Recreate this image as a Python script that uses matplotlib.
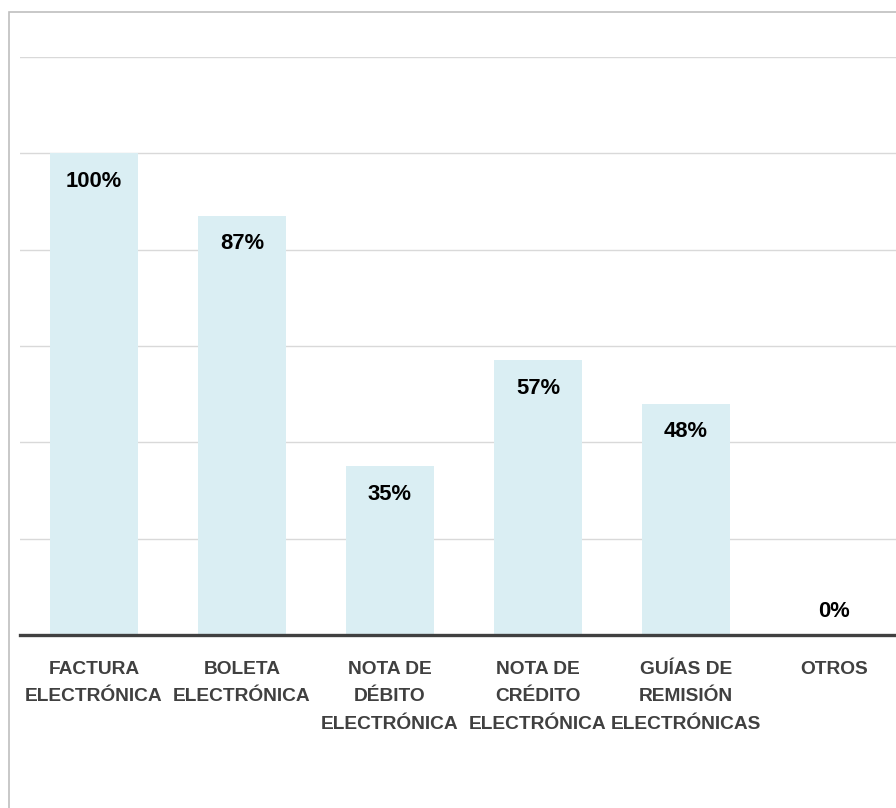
import numpy as np
import matplotlib.pyplot as plt
from matplotlib.patches import Rectangle

categorias = ['FACTURA\nELECTRÓNICA', 'BOLETA\nELECTRÓNICA', 'NOTA DE\nDÉBITO\nELECTRÓNICA',
              'NOTA DE\nCRÉDITO\nELECTRÓNICA', 'GUÍAS DE\nREMISIÓN\nELECTRÓNICAS', 'OTROS']
valores = [100, 87, 35, 57, 48, 0]
etiquetas = ['100%', '87%', '35%', '57%', '48%', '0%']

plt.rcParams['font.family'] = ['Liberation Sans', 'DejaVu Sans']

W, H = 896, 808
fig = plt.figure(figsize=(W / 100, H / 100), dpi=100)
fig.patch.set_facecolor('white')

# borde del grafico (recortado a la derecha y abajo)
fig.patches.append(Rectangle((9 / W, -0.1), 1.2, (H - 12) / H + 0.1, transform=fig.transFigure,
                             fill=False, edgecolor='#BFBFBF', linewidth=1.2, clip_on=False))

# el eje se sale por la derecha como en el original
ax = fig.add_axes([20 / W, (H - 635) / H, 888 / W, 578 / H])
x = np.arange(len(categorias))
ax.bar(x, valores, width=0.595, color='#DAEEF3', zorder=2)

ax.set_xlim(-0.5, len(categorias) - 0.5)
ax.set_ylim(0, 120)
ax.set_yticks(np.arange(20, 121, 20))
ax.yaxis.grid(True, color='#D9D9D9', linewidth=1.0)
ax.set_axisbelow(True)
ax.tick_params(axis='y', left=False, labelleft=False)
ax.tick_params(axis='x', bottom=False, pad=15)
ax.set_xticks(x)
ax.set_xticklabels(categorias, fontsize=13.8, fontweight='bold', color='#404040',
                   va='top', linespacing=1.82)
for s in ['top', 'right', 'left']:
    ax.spines[s].set_visible(False)
ax.spines['bottom'].set_color('#404040')
ax.spines['bottom'].set_linewidth(2.4)
ax.spines['bottom'].set_zorder(3)

for xi, v, t in zip(x, valores, etiquetas):
    if v > 0:
        ax.annotate(t, (xi, v), xytext=(0, -20), textcoords='offset points',
                    ha='center', va='center', fontsize=15.8, fontweight='bold', color='black')
    else:
        ax.annotate(t, (xi, v), xytext=(0, 17), textcoords='offset points',
                    ha='center', va='center', fontsize=15.8, fontweight='bold', color='black')

fig.savefig('out.png', dpi=100)
